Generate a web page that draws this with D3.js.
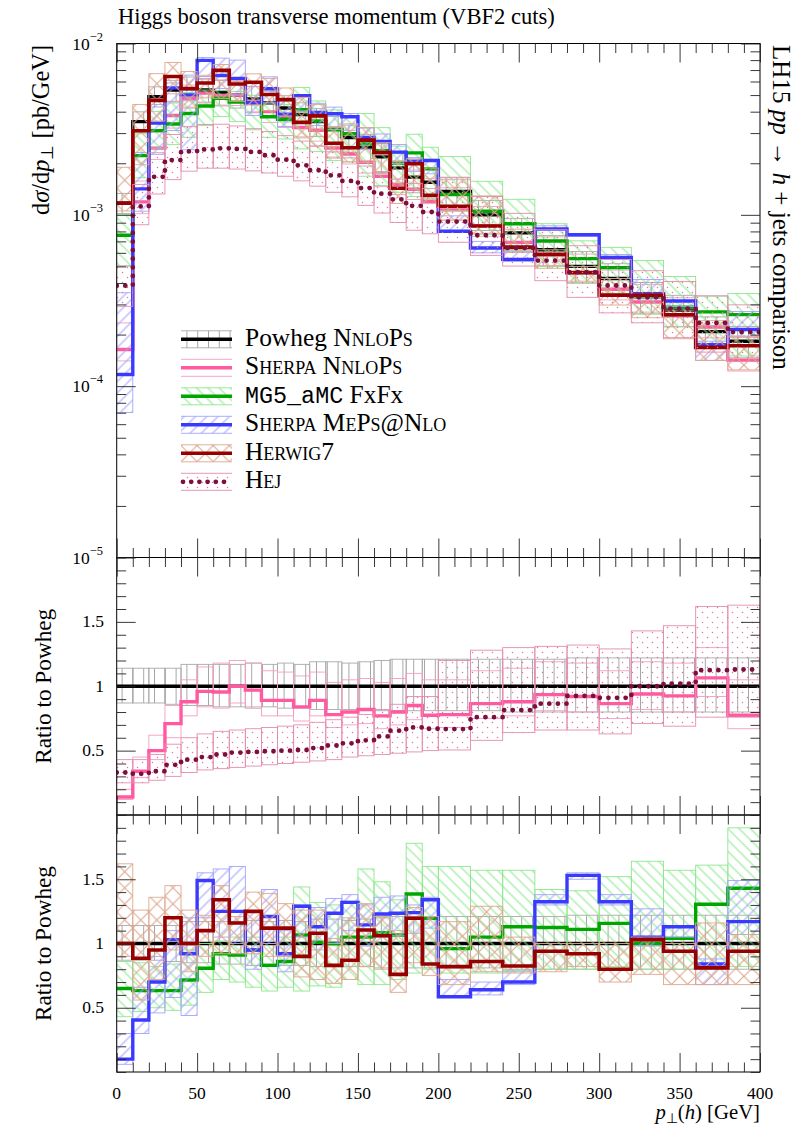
<!DOCTYPE html>
<html>
<head>
<meta charset="utf-8">
<script src="https://cdn.jsdelivr.net/npm/d3@7"></script>
<style>
html,body{margin:0;padding:0;background:#fff;}
svg{display:block;}
text{font-family:"Liberation Serif","Times New Roman",serif;fill:#000;}
</style>
</head>
<body>
<svg id="chart" width="797" height="1132"></svg>
<script>
// ---------------- data ----------------
const ptEdges=[0,10,20,30,40,50,60,70,80,90,100,110,120,130,140,150,160,170,180,190,200,220,240,260,280,300,320,340,360,380,400];
// Powheg NNLOPS central value, dsigma/dpT [pb/GeV]
const powhegXs=[1.17e-3,3.5e-3,4.9e-3,5.35e-3,5.45e-3,5.35e-3,5.2e-3,5.0e-3,4.75e-3,4.5e-3,4.2e-3,3.85e-3,3.5e-3,3.15e-3,2.83e-3,2.47e-3,2.18e-3,1.88e-3,1.66e-3,1.55e-3,1.37e-3,1.0e-3,7.85e-4,6.25e-4,5.0e-4,4.25e-4,3.3e-4,2.78e-4,2.08e-4,1.83e-4];
// all following values are ratios to the Powheg central value
const powhegHi=[1.14,1.14,1.14,1.14,1.17,1.17,1.17,1.17,1.18,1.17,1.18,1.17,1.19,1.19,1.18,1.19,1.20,1.21,1.21,1.21,1.21,1.21,1.21,1.21,1.22,1.22,1.22,1.22,1.22,1.22];
const powhegLo=[0.87,0.87,0.87,0.86,0.85,0.85,0.84,0.84,0.83,0.84,0.83,0.83,0.82,0.82,0.82,0.82,0.81,0.81,0.81,0.81,0.81,0.81,0.80,0.80,0.80,0.80,0.80,0.80,0.80,0.80];

const sherpaNnlopsRatio=[0.14,0.34,0.50,0.71,0.88,0.96,0.955,1.0,0.97,0.89,0.89,0.84,0.89,0.78,0.80,0.82,0.77,0.80,0.85,0.775,0.78,0.865,0.88,0.935,0.92,0.865,0.94,0.925,1.065,0.775];
const sherpaNnlopsHi=[0.20,0.45,0.62,0.85,1.05,1.15,1.18,1.20,1.18,1.12,1.11,1.08,1.11,1.03,1.05,1.06,1.03,1.06,1.10,1.05,1.05,1.12,1.14,1.19,1.18,1.12,1.19,1.18,1.30,1.05];
const sherpaNnlopsLo=[0.12,0.29,0.43,0.60,0.77,0.84,0.83,0.87,0.84,0.77,0.77,0.73,0.77,0.68,0.70,0.71,0.67,0.70,0.74,0.67,0.68,0.75,0.77,0.81,0.80,0.75,0.82,0.80,0.92,0.67];

const mg5Ratio=[0.65,0.633,0.633,0.633,0.716,0.807,0.92,0.91,0.95,0.83,0.86,1.066,1.01,1.0,1.05,1.05,1.085,1.066,1.385,1.196,0.96,1.05,1.13,1.125,1.11,1.157,1.0,1.04,1.305,1.43];
const mg5Hi=[0.86,0.85,0.82,0.84,0.95,1.0,1.02,1.05,1.05,1.0,1.05,1.44,1.32,1.30,1.33,1.58,1.48,1.34,1.78,1.60,1.60,1.57,1.57,1.42,1.41,1.52,1.64,1.57,1.61,1.90];
const mg5Lo=[0.43,0.47,0.50,0.48,0.52,0.62,0.72,0.70,0.66,0.63,0.66,0.63,0.67,0.66,0.72,0.68,0.68,0.72,0.77,0.80,0.77,0.77,0.79,0.80,0.80,0.82,0.80,0.80,0.80,0.82];

const mepsRatio=[0.10,0.405,0.70,1.03,0.92,1.49,1.25,1.25,0.95,1.21,0.92,1.29,1.13,1.235,1.32,1.145,1.23,1.235,1.24,1.34,0.586,0.64,0.70,1.325,1.53,1.325,1.05,1.13,0.84,1.17];
const mepsHi=[0.30,0.66,0.90,1.10,1.20,1.55,1.58,1.60,1.25,1.42,1.10,1.30,1.28,1.35,1.38,1.30,1.36,1.37,1.30,1.36,0.72,0.70,0.78,1.38,1.55,1.38,1.27,1.13,0.88,1.49];
const mepsLo=[0.06,0.30,0.46,0.58,0.44,1.20,1.05,1.0,0.80,1.0,0.78,1.05,0.95,1.0,1.1,0.98,1.05,1.06,1.08,1.12,0.58,0.60,0.68,1.30,1.50,1.30,0.98,1.05,0.68,1.07];

const herwigRatio=[1.0,0.885,0.95,1.20,1.0,1.10,1.34,1.16,1.25,1.12,1.12,0.90,1.08,0.83,0.87,1.105,1.06,0.76,1.196,0.84,0.82,0.86,0.825,0.94,0.92,0.80,1.03,0.94,0.81,0.94];
const herwigHi=[1.62,1.26,1.36,1.45,1.26,1.22,1.45,1.21,1.40,1.39,1.31,1.26,1.26,1.04,1.20,1.31,1.21,1.10,1.28,1.21,1.17,1.29,1.05,1.0,1.0,1.0,1.05,1.0,1.16,1.07];
const herwigLo=[0.90,0.56,0.72,0.95,0.78,0.90,0.92,0.92,0.92,0.90,0.90,0.74,0.72,0.69,0.72,0.82,0.80,0.62,0.85,0.75,0.68,0.78,0.77,0.78,0.82,0.70,0.76,0.68,0.68,0.68];

const hejRatio=[0.33,0.32,0.34,0.39,0.43,0.45,0.47,0.485,0.49,0.495,0.50,0.505,0.52,0.54,0.557,0.58,0.61,0.655,0.68,0.67,0.667,0.76,0.815,0.865,0.925,0.91,1.0,1.02,1.125,1.13];
const hejHi=[0.43,0.43,0.47,0.55,0.60,0.63,0.65,0.66,0.67,0.68,0.69,0.70,0.72,0.74,0.76,0.78,0.82,0.86,0.92,0.92,1.20,1.28,1.30,1.31,1.32,1.29,1.43,1.47,1.62,1.63];
const hejLo=[0.25,0.25,0.27,0.30,0.33,0.35,0.36,0.37,0.38,0.39,0.40,0.41,0.42,0.43,0.45,0.46,0.47,0.48,0.49,0.50,0.505,0.58,0.64,0.66,0.66,0.63,0.71,0.69,0.76,0.76];

const xMajorTicks=[0,50,100,150,200,250,300,350,400];
const logMajorTicks=[1e-5,1e-4,1e-3,1e-2];
const ratioMajorTicks=[0.5,1,1.5];
const titleText="Higgs boson transverse momentum (VBF2 cuts)";
const ratioLabelText="Ratio to Powheg";
// legend entries: [text, style] segments ; n=normal, sc=small caps, tt=typewriter
const legendEntries=[
  [["Powheg ","n"],["NnloPs","sc"]],
  [["Sherpa NnloPs","sc"]],
  [["MG5_aMC","tt"],[" FxFx","n"]],
  [["Sherpa MePs@Nlo","sc"]],
  [["Herwig","sc"],["7","n"]],
  [["Hej","sc"]]
];

// ---------------- layout ----------------
const X0=116.7,X1=760;
const P0={top:43.5,bot:557.5},P1={top:557.5,bot:815},P2={top:815,bot:1072};
const x=d3.scaleLinear().domain([0,400]).range([X0,X1]);
const yMain=d3.scaleLog().domain([1e-5,1e-2]).range([P0.bot,P0.top]);
const yR1=d3.scaleLinear().domain([0,2]).range([P1.bot,P1.top]);
const yR2=d3.scaleLinear().domain([0,2]).range([P2.bot,P2.top]);

const svg=d3.select('#chart');
const defs=svg.append('defs');
[['clipMain',P0],['clipR1',P1],['clipR2',P2]].forEach(([id,p])=>{
  defs.append('clipPath').attr('id',id).append('rect')
    .attr('x',X0).attr('y',p.top).attr('width',X1-X0).attr('height',p.bot-p.top);
});

function linePattern(id,color,spacing,angle,sw){
  const p=defs.append('pattern').attr('id',id).attr('patternUnits','userSpaceOnUse')
    .attr('x',X0).attr('y',0).attr('width',spacing).attr('height',spacing)
    .attr('patternTransform',`rotate(${angle})`);
  p.append('line').attr('x1',spacing/2).attr('y1',-1).attr('x2',spacing/2).attr('y2',spacing+1)
    .attr('stroke',color).attr('stroke-width',sw);
}
linePattern('pPow','#a6a6a6',10.8,0,1);
linePattern('pMg5','#86e886',8,-45,1);
linePattern('pMeps','#a0a0ff',8,45,1);
{
  const s=x(10)-x(0);
  const p=defs.append('pattern').attr('id','pHer').attr('patternUnits','userSpaceOnUse')
    .attr('x',X0).attr('y',P0.top).attr('width',s).attr('height',s);
  p.append('path').attr('d',`M0,0L${s},${s}M${s},0L0,${s}`).attr('stroke','#dca68c').attr('stroke-width',1.1).attr('fill','none');
}
{
  const p=defs.append('pattern').attr('id','pHej').attr('patternUnits','userSpaceOnUse')
    .attr('width',10).attr('height',10);
  p.append('circle').attr('cx',2.5).attr('cy',2.5).attr('r',0.75).attr('fill','#e0789e');
  p.append('circle').attr('cx',7.5).attr('cy',7.5).attr('r',0.75).attr('fill','#e0789e');
}

const styles={
  powheg:{line:'#000',w:3.4,band:'url(#pPow)',edge:'#a9a9a9'},
  sherpaN:{line:'#ff5aa0',w:3.4,band:'none',edge:'#f59cc2'},
  mg5:{line:'#00a600',w:3.4,band:'url(#pMg5)',edge:'#8ce88c'},
  meps:{line:'#3a3aff',w:3.4,band:'url(#pMeps)',edge:'#a4a4ff'},
  herwig:{line:'#970000',w:3.6,band:'url(#pHer)',edge:'#dda88e'},
  hej:{line:'#7d0f3c',w:4.8,dash:'0 8.6',band:'url(#pHej)',edge:'#e58cb0'}
};
const S={
  powheg:{key:'powheg',ratio:powhegXs.map((v,i)=>v/powhegXs[i]),hi:powhegHi,lo:powhegLo},
  sherpaN:{key:'sherpaN',ratio:sherpaNnlopsRatio,hi:sherpaNnlopsHi,lo:sherpaNnlopsLo},
  mg5:{key:'mg5',ratio:mg5Ratio,hi:mg5Hi,lo:mg5Lo},
  meps:{key:'meps',ratio:mepsRatio,hi:mepsHi,lo:mepsLo},
  herwig:{key:'herwig',ratio:herwigRatio,hi:herwigHi,lo:herwigLo},
  hej:{key:'hej',ratio:hejRatio,hi:hejHi,lo:hejLo}
};

function drawSeries(g,s,ys,conv){
  const st=styles[s.key];
  const bins=d3.range(s.ratio.length);
  g.append('g').selectAll('rect').data(bins).join('rect')
    .attr('x',i=>x(ptEdges[i])).attr('width',i=>x(ptEdges[i+1])-x(ptEdges[i]))
    .attr('y',i=>ys(conv(s.hi[i],i)))
    .attr('height',i=>ys(conv(s.lo[i],i))-ys(conv(s.hi[i],i)))
    .attr('fill',st.band).attr('stroke',st.edge).attr('stroke-width',0.9);
  const pts=bins.map(i=>[x(ptEdges[i]),ys(conv(s.ratio[i],i))]);
  pts.push([x(ptEdges[bins.length]),pts[pts.length-1][1]]);
  g.append('path').attr('d',d3.line().curve(d3.curveStepAfter)(pts))
    .attr('fill','none').attr('stroke',st.line).attr('stroke-width',st.w)
    .attr('stroke-dasharray',st.dash||null)
    .attr('stroke-linecap',st.dash?'round':'butt');
}

const gMain=svg.append('g').attr('clip-path','url(#clipMain)');
const toAbs=(r,i)=>r*powhegXs[i];
['powheg','sherpaN','mg5','meps','herwig','hej'].forEach(k=>drawSeries(gMain,S[k],yMain,toAbs));
const gR1=svg.append('g').attr('clip-path','url(#clipR1)');
['powheg','sherpaN','hej'].forEach(k=>drawSeries(gR1,S[k],yR1,r=>r));
const gR2=svg.append('g').attr('clip-path','url(#clipR2)');
['powheg','mg5','meps','herwig'].forEach(k=>drawSeries(gR2,S[k],yR2,r=>r));

// ---------------- frames and ticks ----------------
[P0,P1,P2].forEach(p=>{
  svg.append('rect').attr('x',X0).attr('y',p.top).attr('width',X1-X0).attr('height',p.bot-p.top)
    .attr('fill','none').attr('stroke','#000').attr('stroke-width',1);
});
function tickGroup(axis,tx,ty){
  const g=svg.append('g').attr('transform',`translate(${tx},${ty})`).call(axis);
  g.select('.domain').remove();
  g.selectAll('.tick line').attr('stroke','#222').attr('stroke-width',0.9);
  g.selectAll('.tick text').remove();
  return g;
}
const xMinor=x.ticks(40).filter(v=>!xMajorTicks.includes(v));
[P0,P1,P2].forEach(p=>{
  tickGroup(d3.axisBottom(x).tickValues(xMajorTicks).tickSize(-19),0,p.bot);
  tickGroup(d3.axisBottom(x).tickValues(xMinor).tickSize(-9.5),0,p.bot);
  tickGroup(d3.axisTop(x).tickValues(xMajorTicks).tickSize(-19),0,p.top);
  tickGroup(d3.axisTop(x).tickValues(xMinor).tickSize(-9.5),0,p.top);
});
const logMinor=yMain.ticks().filter(v=>!logMajorTicks.some(m=>Math.abs(m-v)/m<1e-6));
tickGroup(d3.axisLeft(yMain).tickValues(logMajorTicks).tickSize(-19),X0,0);
tickGroup(d3.axisLeft(yMain).tickValues(logMinor).tickSize(-9.5),X0,0);
tickGroup(d3.axisRight(yMain).tickValues(logMajorTicks).tickSize(-19),X1,0);
tickGroup(d3.axisRight(yMain).tickValues(logMinor).tickSize(-9.5),X1,0);
[yR1,yR2].forEach(ys=>{
  const minor=ys.ticks(20).filter(v=>!ratioMajorTicks.includes(v));
  tickGroup(d3.axisLeft(ys).tickValues(ratioMajorTicks).tickSize(-19),X0,0);
  tickGroup(d3.axisLeft(ys).tickValues(minor).tickSize(-9.5),X0,0);
  tickGroup(d3.axisRight(ys).tickValues(ratioMajorTicks).tickSize(-19),X1,0);
  tickGroup(d3.axisRight(ys).tickValues(minor).tickSize(-9.5),X1,0);
});

// ---------------- tick labels ----------------
svg.append('g').selectAll('text').data(xMajorTicks).join('text')
  .attr('x',d=>x(d)).attr('y',1099).attr('text-anchor','middle').attr('font-size',17.5).text(d=>d);
const ll=svg.append('g').selectAll('text').data(logMajorTicks).join('text')
  .attr('x',103).attr('y',d=>yMain(d)+6).attr('text-anchor','end').attr('font-size',17.5);
ll.append('tspan').text('10');
ll.append('tspan').attr('dy',-9).attr('font-size',12.5).text(d=>'\u2212'+Math.round(-Math.log10(d)));
[yR1,yR2].forEach(ys=>{
  svg.append('g').selectAll('text').data(ratioMajorTicks).join('text')
    .attr('x',104).attr('y',d=>ys(d)+5.5).attr('text-anchor','end').attr('font-size',17.5).text(d=>String(d));
});

// ---------------- labels ----------------
function fit(sel,target){
  const w=sel.node().getComputedTextLength();
  const fs=+sel.attr('font-size');
  sel.attr('font-size',(fs*target/w).toFixed(2));
}
const title=svg.append('text').attr('x',118).attr('y',24).attr('font-size',20).text(titleText);
fit(title,437);

const yl=svg.append('text').attr('transform','translate(49,45) rotate(-90)').attr('text-anchor','end').attr('font-size',21);
yl.append('tspan').text('d');
yl.append('tspan').attr('font-style','italic').text('\u03c3');
yl.append('tspan').text('/d');
yl.append('tspan').attr('font-style','italic').text('p');
yl.append('tspan').attr('font-size','70%').attr('dy',4).text('\u22a5');
yl.append('tspan').attr('dy',-4).text(' [pb/GeV]');
fit(yl,170);

[P1,P2].forEach(p=>{
  const t=svg.append('text').attr('transform',`translate(51,${(p.top+p.bot)/2}) rotate(-90)`)
    .attr('text-anchor','middle').attr('font-size',21).text(ratioLabelText);
  fit(t,155);
});

const rl=svg.append('text').attr('transform','translate(773,45) rotate(90)').attr('font-size',20);
rl.append('tspan').text('LH15 ');
rl.append('tspan').attr('font-style','italic').text('pp');
rl.append('tspan').text(' \u2192 ');
rl.append('tspan').attr('font-style','italic').text('h');
rl.append('tspan').text(' + jets comparison');
fit(rl,325);

const xl=svg.append('text').attr('x',760).attr('y',1119).attr('text-anchor','end').attr('font-size',20);
xl.append('tspan').attr('font-style','italic').text('p');
xl.append('tspan').attr('font-size','70%').attr('dy',4).text('\u22a5');
xl.append('tspan').attr('dy',-4).text('(');
xl.append('tspan').attr('font-style','italic').text('h');
xl.append('tspan').text(') [GeV]');
fit(xl,105);

// ---------------- legend ----------------
const legKeys=['powheg','sherpaN','mg5','meps','herwig','hej'];
const legY0=339.3,legDy=28.5,lx0=181,lx1=232,tx=245;
const lg=svg.append('g');
const legTexts=[];
legKeys.forEach((k,i)=>{
  const st=styles[k];
  const y=legY0+i*legDy;
  lg.append('rect').attr('x',lx0).attr('y',y-8.5).attr('width',lx1-lx0).attr('height',17).attr('fill',st.band);
  [y-8.5,y+8.5].forEach(yy=>lg.append('line').attr('x1',lx0).attr('x2',lx1).attr('y1',yy).attr('y2',yy).attr('stroke',st.edge).attr('stroke-width',0.9));
  lg.append('line').attr('x1',lx0+(st.dash?2:0)).attr('x2',lx1).attr('y1',y).attr('y2',y)
    .attr('stroke',st.line).attr('stroke-width',st.w).attr('stroke-dasharray',st.dash?'0 8.2':null)
    .attr('stroke-linecap',st.dash?'round':'butt');
  const t=lg.append('text').attr('x',tx).attr('y',y+6.5).attr('font-size',19);
  legendEntries[i].forEach(([txt,sty])=>{
    const sp=t.append('tspan').text(txt);
    if(sty==='sc') sp.style('font-variant','small-caps');
    if(sty==='tt') sp.style('font-family','"Liberation Mono","DejaVu Sans Mono",monospace').attr('font-size','92%');
  });
  legTexts.push(t);
});
{
  const w=legTexts[3].node().getComputedTextLength();
  const fs=19*198/w;
  legTexts.forEach(t=>t.attr('font-size',fs.toFixed(2)));
}
</script>
</body>
</html>
